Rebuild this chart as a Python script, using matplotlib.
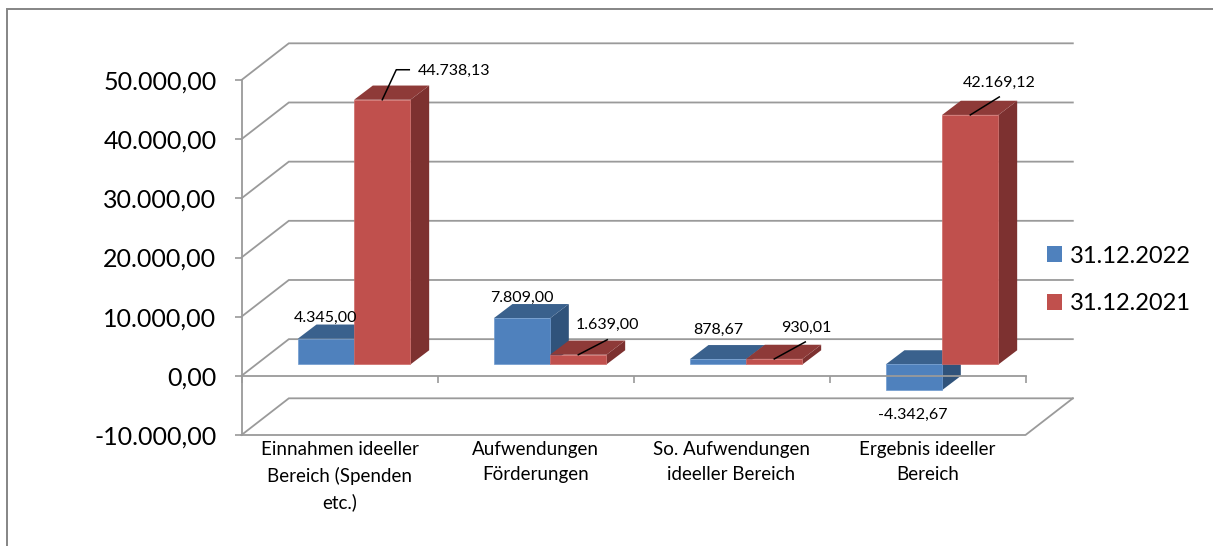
import matplotlib
matplotlib.use('Agg')
import matplotlib.pyplot as plt
from matplotlib.lines import Line2D
from matplotlib.patches import Polygon, Patch

kategorien = ['Einnahmen ideeller\nBereich (Spenden\netc.)', 'Aufwendungen\nFörderungen',
              'So. Aufwendungen\nideeller Bereich', 'Ergebnis ideeller\nBereich']
werte_2022 = [4345.00, 7809.00, 878.67, -4342.67]
werte_2021 = [44738.13, 1639.00, 930.01, 42169.12]
y_ticks = [-10000, 0, 10000, 20000, 30000, 40000, 50000]

# Pixel offsets of the data labels from the bar top (x right, y up)
label_2022 = [(0, 21), (0, 20), (0, 29), (-1, -25)]
label_2021 = [(72, 29), (29, 30), (32, 31), (29, 32)]
# Leader lines, as points in pixels from the bar top
leader_2021 = [[(0, 0), (14, 30), (27, 30)], [(0, 0), (29, 15)], [(0, 0), (31, 17)], [(0, 0), (29, 18)]]

GRAU = '#9a9a9a'
RAHMEN = '#858585'
# front, top, side, front edge
BLAU = ('#4f81bd', '#3a618d', '#30537b', '#6f9bd0')
ROT = ('#c0504d', '#8e3a38', '#7d3130', '#cf6a67')

# perspective depth of the walls and the bars, in data units
TIEFE_X, TIEFE_Y = 0.2415, 6200
BAR_DX, BAR_DY = 0.0745, 1925
BAR_TX, BAR_TY = 0.0955, 2400
BAR_B = 0.2875


def de(v):
    s = f'{v:,.2f}'
    return s.replace(',', 'X').replace('.', ',').replace('X', '.')


def balken(ax, x, wert, farben, z):
    x0 = x + BAR_DX
    y0 = BAR_DY
    y1 = BAR_DY + wert
    x1 = x0 + BAR_B
    oben = max(y0, y1)
    ax.add_patch(Polygon([(x1, y0), (x1, y1), (x1 + BAR_TX, y1 + BAR_TY), (x1 + BAR_TX, y0 + BAR_TY)],
                         fc=farben[2], ec='none', zorder=z))
    ax.add_patch(Polygon([(x0, oben), (x1, oben), (x1 + BAR_TX, oben + BAR_TY), (x0 + BAR_TX, oben + BAR_TY)],
                         fc=farben[1], ec='none', zorder=z))
    ax.add_patch(Polygon([(x0, y0), (x1, y0), (x1, y1), (x0, y1)],
                         fc=farben[0], ec=farben[3], lw=0.5, zorder=z))
    return x0 + BAR_B / 2, y1


plt.rcParams['font.family'] = ['Lato', 'DejaVu Sans']
fig = plt.figure(figsize=(12.13, 5.46), dpi=100)

# frame: only the top and left edges fall inside the picture
fig.add_artist(Line2D([7 / 1213, 7 / 1213, 1], [0, 1 - 9 / 546, 1 - 9 / 546], color=RAHMEN, lw=1.4,
                      transform=fig.transFigure, solid_joinstyle='miter'))

ax = fig.add_axes([241.5 / 1213, 1 - 435 / 546, 784 / 1213, 355 / 546])
ax.set_xlim(0, 4)
ax.set_ylim(-10000, 50000)
ax.patch.set_visible(False)
for s in ['top', 'right']:
    ax.spines[s].set_visible(False)
ax.spines['left'].set_color(GRAU)
ax.spines['left'].set_linewidth(1.3)
ax.spines['bottom'].set_position(('data', 0))
ax.spines['bottom'].set_color(GRAU)
ax.spines['bottom'].set_linewidth(1.3)
ax.spines['bottom'].set_zorder(6)

ax.set_yticks(y_ticks)
ax.set_yticklabels([de(v) for v in y_ticks], fontsize=18)
ax.tick_params(axis='y', color=GRAU, width=1.2, length=5, pad=13)
ax.set_xticks(range(5))
ax.set_xticklabels([])
ax.tick_params(axis='x', which='major', color=GRAU, width=1.2, length=5, direction='out')
ax.set_xticks([i + 0.5 for i in range(4)], minor=True)
ax.set_xticklabels(kategorien, minor=True, fontsize=13.5, linespacing=1.57)
ax.tick_params(axis='x', which='minor', length=0, pad=47)

# back wall and side wall lines
for v in y_ticks:
    ax.plot([0, TIEFE_X, 4 + TIEFE_X], [v, v + TIEFE_Y, v + TIEFE_Y], color=GRAU, lw=1.3,
            clip_on=False, zorder=1, solid_joinstyle='miter')
# floor
ax.plot([0, 4, 4 + TIEFE_X], [-10000, -10000, -10000 + TIEFE_Y], color=GRAU, lw=1.3,
        clip_on=False, zorder=1)

for i in range(4):
    xm, ym = balken(ax, i + 0.5 - BAR_B, werte_2022[i], BLAU, 3)
    ax.annotate(de(werte_2022[i]), (xm, ym), xytext=label_2022[i], textcoords='offset pixels',
                ha='center', va='center', fontsize=11.5, zorder=8, annotation_clip=False)
for i in range(4):
    xm, ym = balken(ax, i + 0.5, werte_2021[i], ROT, 4)
    ax.annotate(de(werte_2021[i]), (xm, ym), xytext=label_2021[i], textcoords='offset pixels',
                ha='center', va='center', fontsize=11.5, zorder=8, annotation_clip=False)
    px, py = ax.transData.transform((xm, ym))
    ax.plot([px + q[0] for q in leader_2021[i]], [py + q[1] for q in leader_2021[i]], color='black', lw=1.1,
            transform=None, zorder=9, clip_on=False)

griffe = [Patch(fc=BLAU[0], label='31.12.2022'), Patch(fc=ROT[0], label='31.12.2021')]
ax.legend(handles=griffe, loc='center left', bbox_to_anchor=((1037.6 - 241.5) / 784, 0.437), frameon=False,
          fontsize=17, handlelength=0.63, handleheight=0.63, handletextpad=0.32, labelspacing=1.13,
          borderaxespad=0)

fig.savefig('out.png', dpi=100)
